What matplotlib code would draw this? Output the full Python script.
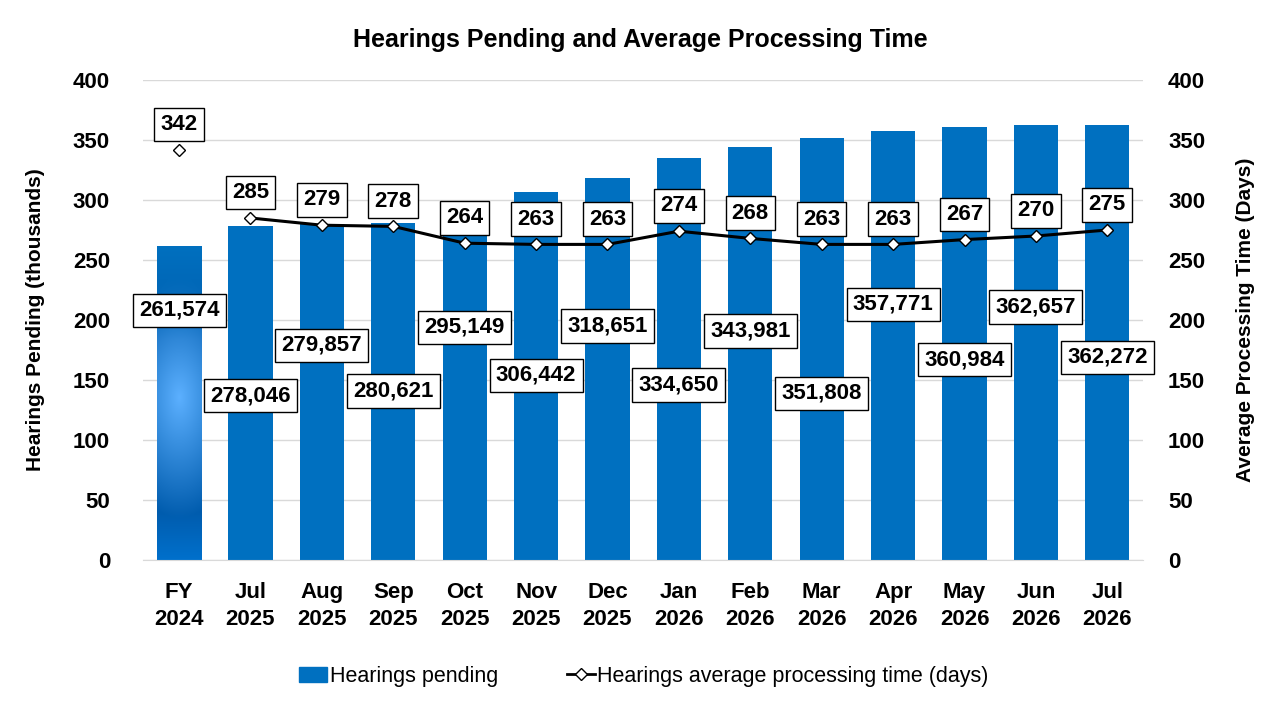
import numpy as np
import matplotlib
matplotlib.use("Agg")
import matplotlib.pyplot as plt
from matplotlib.lines import Line2D
from matplotlib.patches import Patch

categories = ["FY\n2024", "Jul\n2025", "Aug\n2025", "Sep\n2025", "Oct\n2025", "Nov\n2025", "Dec\n2025",
              "Jan\n2026", "Feb\n2026", "Mar\n2026", "Apr\n2026", "May\n2026", "Jun\n2026", "Jul\n2026"]
pending = [261574, 278046, 279857, 280621, 295149, 306442, 318651,
           334650, 343981, 351808, 357771, 360984, 362657, 362272]
proc_days = [342, 285, 279, 278, 264, 263, 263, 274, 268, 263, 263, 267, 270, 275]

# where the pending labels sit (in thousands on the left axis)
pending_label_y = [208, 137, 179, 141, 194, 154, 195, 146, 191, 139, 213, 167, 211, 169]

plt.rcParams["font.family"] = ["Liberation Sans", "DejaVu Sans"]
plt.rcParams["font.weight"] = "bold"

blue = "#0070C0"
fig = plt.figure(figsize=(12.8, 7.2), dpi=100)
ax = fig.add_axes([0.112, 0.222, 0.781, 0.667])
ax2 = ax.twinx()

x = np.arange(len(categories))
pend_k = np.array(pending) / 1000.0
bars = ax.bar(x, pend_k, width=0.62, color=blue, zorder=2)

# gradient fill on the first bar
b0 = bars[0]
b0.set_facecolor("none")
yy = np.linspace(0, 1, 300)[:, None]
xx = np.linspace(-1, 1, 60)[None, :]
c = 135.0 / pend_k[0]
d = np.sqrt((xx * 0.35) ** 2 + ((yy - c) * 2.6) ** 2)
t = np.clip(d, 0, 1)
light = np.array([0.36, 0.69, 1.0])
dark = np.array([0.0, 0.36, 0.68])
img = light[None, None, :] * (1 - t[..., None]) + dark[None, None, :] * t[..., None]
top = np.clip((yy - 0.7) / 0.3, 0, 1)[..., None]
base = np.array([0.0, 0.44, 0.75])
img = img * (1 - top) + base * top
bot = np.clip((0.15 - yy) / 0.15, 0, 1)[..., None]
img = img * (1 - bot) + np.array([0.0, 0.44, 0.80]) * bot
im = ax.imshow(img, extent=[b0.get_x(), b0.get_x() + b0.get_width(), 0, pend_k[0]],
               origin="lower", aspect="auto", zorder=2)
im.set_clip_path(b0)

ax.set_xlim(-0.5, len(categories) - 0.5)
ax.set_ylim(0, 400)
ax2.set_ylim(0, 400)
ax.set_yticks(range(0, 401, 50))
ax2.set_yticks(range(0, 401, 50))
ax.grid(axis="y", color="#d9d9d9", lw=1, zorder=0)
ax.set_axisbelow(True)
for a in (ax, ax2):
    for s in a.spines.values():
        s.set_visible(False)
    a.tick_params(length=0, labelsize=16)
ax.spines["bottom"].set_visible(True)
ax.spines["bottom"].set_color("#d9d9d9")
ax.set_xticks(x)
ax.set_xticklabels(categories, fontsize=16, linespacing=1.35)
ax.tick_params(axis="x", pad=16)
ax.tick_params(axis="y", pad=24)
ax2.tick_params(axis="y", pad=18)
ax.set_ylabel("Hearings Pending (thousands)", fontsize=15, fontweight="bold", labelpad=20)
ax2.set_ylabel("Average Processing Time (Days)", fontsize=15, fontweight="bold", labelpad=22)

box = dict(boxstyle="square,pad=0.28", fc="white", ec="black", lw=1)
for i, v in enumerate(pending):
    ax.text(x[i], pending_label_y[i], f"{v:,}", ha="center", va="center", fontsize=16,
            fontweight="bold", bbox=box, zorder=5)

ax2.plot(x[1:], proc_days[1:], color="black", lw=2.2, zorder=3)
ax2.plot(x, proc_days, ls="none", marker="D", ms=6, mfc="white", mec="black", mew=1, zorder=4)
for i, v in enumerate(proc_days):
    ax2.text(x[i], v + 21, str(v), ha="center", va="center", fontsize=16,
             fontweight="bold", bbox=box, zorder=5)

fig.suptitle("Hearings Pending and Average Processing Time", y=0.944, va="center",
             fontsize=18, fontweight="bold")

handles = [Patch(color=blue, label="Hearings pending"),
           Line2D([], [], color="black", lw=2, marker="D", ms=6, mfc="white", mec="black",
                  label="Hearings average processing time (days)")]
fig.legend(handles=handles, loc="center", bbox_to_anchor=(0.503, 0.061), ncol=2, frameon=False,
           handlelength=1.3, handletextpad=0.1, columnspacing=3.2,
           prop={"weight": "normal", "size": 15.5})

fig.savefig("out.png", dpi=100)
